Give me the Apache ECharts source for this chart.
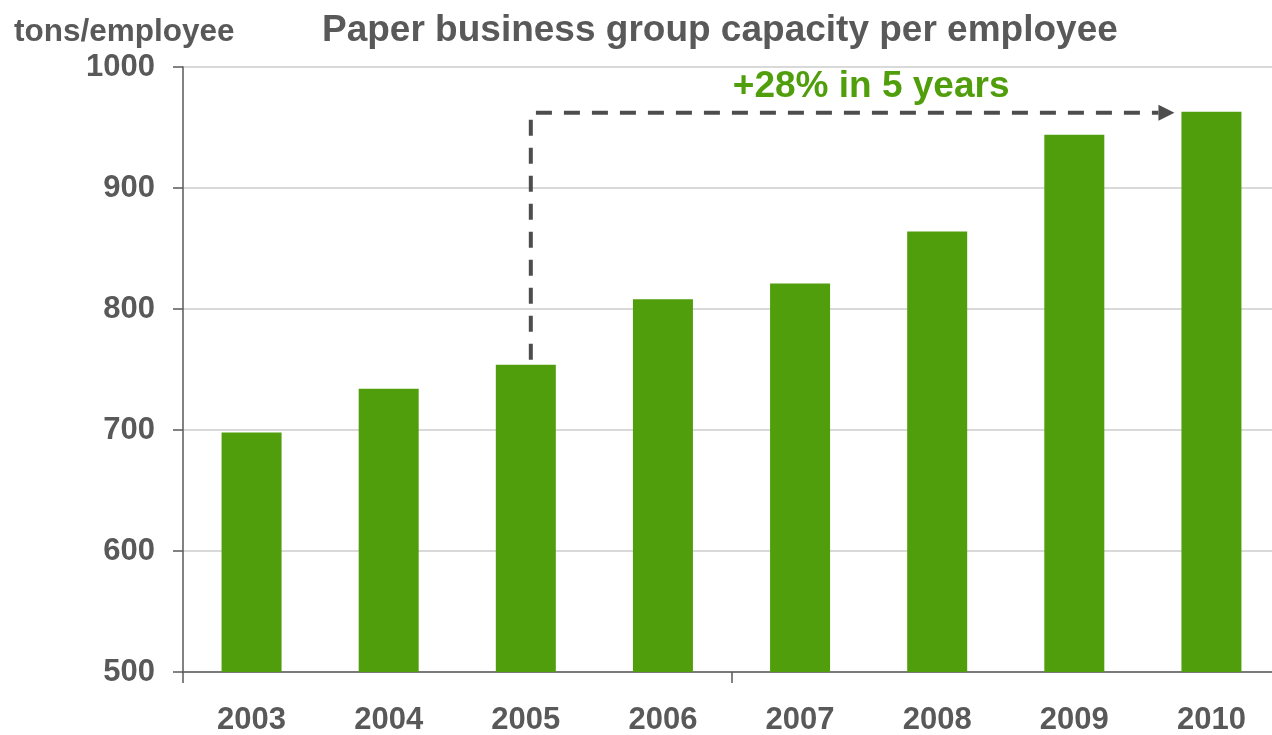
<!DOCTYPE html>
<html>
<head>
<meta charset="utf-8">
<script src="https://cdn.jsdelivr.net/npm/echarts@6/dist/echarts.min.js"></script>
<style>
html,body{margin:0;padding:0;background:#fff;overflow:hidden;}
#main{width:1272px;height:735px;}
</style>
</head>
<body>
<div id="main"></div>
<script>
const years = ['2003','2004','2005','2006','2007','2008','2009','2010'];
const capacity = [698, 734, 754, 808, 821, 864, 944, 963];
const yTicks = [500, 600, 700, 800, 900, 1000];
const titleText = 'Paper business group capacity per employee';
const unitText = 'tons/employee';
const growthText = '+28% in 5 years';
const fromYear = '2005';
const toYear = '2010';

const GRAY = '#595959';
const GREEN = '#519e0d';
const FONT = 'Liberation Sans, Arial, sans-serif';

const chart = echarts.init(document.getElementById('main'));
chart.setOption({
  animation: false,
  backgroundColor: '#ffffff',
  title: [
    { text: titleText, left: 317, top: 7,
      textStyle: { fontFamily: FONT, fontWeight: 'bold', fontSize: 37, color: GRAY } },
    { text: unitText, left: 9, top: 11,
      textStyle: { fontFamily: FONT, fontWeight: 'bold', fontSize: 31.5, color: GRAY } }
  ],
  grid: { left: 183, top: 67, width: 1097, bottom: 63, containLabel: false, outerBoundsMode: 'none' },
  xAxis: {
    type: 'category',
    data: years,
    boundaryGap: true,
    axisLine: { lineStyle: { color: GRAY, width: 1.5 } },
    axisTick: { show: true, interval: function (idx) { return idx % 4 === 0; }, length: 11, lineStyle: { color: GRAY, width: 1.5 } },
    axisLabel: { margin: 33, fontFamily: FONT, fontWeight: 'bold', fontSize: 31, color: GRAY, interval: 0 }
  },
  yAxis: {
    type: 'value',
    min: yTicks[0],
    max: yTicks[yTicks.length - 1],
    interval: 100,
    axisLine: { show: true, lineStyle: { color: GRAY, width: 1.5 } },
    axisTick: { show: true, length: 10, lineStyle: { color: GRAY, width: 1.5 } },
    axisLabel: { margin: 28, fontFamily: FONT, fontWeight: 'bold', fontSize: 31, color: GRAY,
                 formatter: function (v) { return String(v); } },
    splitLine: { show: true, lineStyle: { color: '#d9d9d9', width: 2 } }
  },
  series: [{
    type: 'bar',
    data: capacity,
    barWidth: 60,
    itemStyle: { color: GREEN },
    z: 2
  }]
});

function drawAnnotation() {
  const i0 = years.indexOf(fromYear), i1 = years.indexOf(toYear);
  const pFrom = chart.convertToPixel({ gridIndex: 0 }, [fromYear, capacity[i0]]);
  const pTo = chart.convertToPixel({ gridIndex: 0 }, [toYear, capacity[i1]]);
  const x0 = pFrom[0] + 5;
  const yBottom = pFrom[1] - 5;
  const yTop = pTo[1] + 1;
  const xTip = pTo[0] - 37;
  const headLen = 16, headHalf = 8;
  chart.setOption({
    graphic: [
      {
        type: 'polyline', z: 10,
        shape: { points: [[x0, yBottom], [x0, yTop], [xTip - headLen, yTop]] },
        style: { stroke: '#4d4d4d', lineWidth: 4, lineDash: [16, 12], fill: null }
      },
      {
        type: 'polygon', z: 10,
        shape: { points: [[xTip - headLen, yTop - headHalf], [xTip, yTop], [xTip - headLen, yTop + headHalf]] },
        style: { fill: '#4d4d4d' }
      },
      {
        type: 'text', z: 10,
        x: (x0 + pTo[0]) / 2, y: yTop - 26,
        style: { text: growthText, fill: GREEN, fontFamily: FONT, fontWeight: 'bold', fontSize: 37,
                 align: 'center', verticalAlign: 'middle' }
      }
    ]
  });
}
drawAnnotation();
</script>
</body>
</html>
